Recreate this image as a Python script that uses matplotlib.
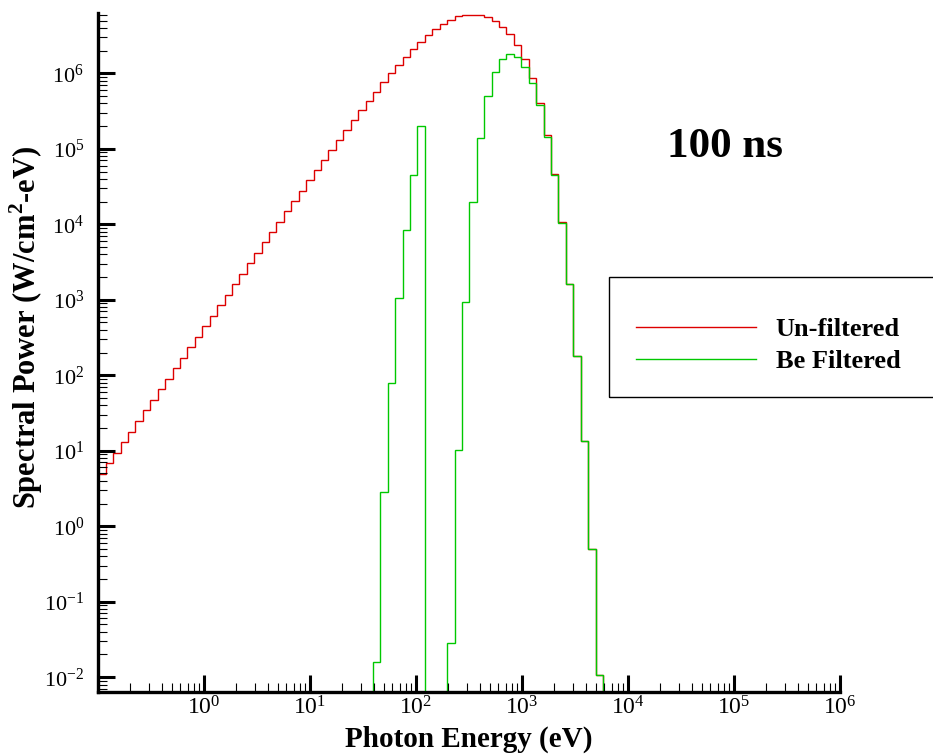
import numpy as np
import matplotlib
matplotlib.use('Agg')
import matplotlib.pyplot as plt
from matplotlib.lines import Line2D
from matplotlib.patches import Rectangle
from matplotlib.ticker import LogLocator, NullFormatter, FuncFormatter

plt.rcParams['font.family'] = ['Liberation Serif', 'DejaVu Serif']
plt.rcParams['mathtext.fontset'] = 'custom'
plt.rcParams['mathtext.rm'] = 'Liberation Serif'
plt.rcParams['mathtext.bf'] = 'Liberation Serif:bold'
plt.rcParams['axes.unicode_minus'] = False

# photon energy bin edges (eV), log spaced
edges = [0.1008, 0.1184, 0.1391, 0.1634, 0.1920, 0.2257, 0.2651, 0.3115, 0.3660, 0.4300,
         0.5052, 0.5935, 0.6974, 0.8194, 0.9627, 1.131, 1.329, 1.561, 1.834, 2.155,
         2.532, 2.975, 3.495, 4.107, 4.825, 5.669, 6.661, 7.826, 9.194, 10.80,
         12.69, 14.91, 17.52, 20.59, 24.19, 28.42, 33.39, 39.23, 46.09, 54.15,
         63.62, 74.75, 87.82, 103.2, 121.2, 142.4, 167.3, 196.6, 231.0, 271.3,
         318.8, 374.6, 440.1, 517.0, 607.5, 713.7, 838.6, 985.2, 1157, 1360,
         1598, 1877, 2206, 2591, 3044, 3577, 4202, 4937, 5801]

# un-filtered spectrum, one value per bin (W/cm2-eV)
unfiltered = [4.86, 6.93, 9.42, 12.9, 17.9, 25.0, 34.3, 47.0, 65.0, 88.3,
              123, 171, 236, 324, 448, 614, 843, 1165, 1600, 2210,
              3060, 4190, 5760, 7890, 1.08e4, 1.49e4, 2.05e4, 2.78e4, 3.81e4, 5.22e4,
              7.08e4, 9.61e4, 1.304e5, 1.785e5, 2.378e5, 3.226e5, 4.325e5, 5.69e5, 7.64e5, 9.97e5,
              1.297e6, 1.655e6, 2.094e6, 2.614e6, 3.236e6, 3.848e6, 4.483e6, 5.117e6, 5.676e6, 5.96e6,
              5.96e6, 5.90e6, 5.50e6, 4.95e6, 4.13e6, 3.27e6, 2.36e6, 1.53e6, 8.63e5, 4.03e5,
              1.52e5, 4.58e4, 1.07e4, 1630, 181, 13.6, 0.504, 0.0107]

# Be filtered spectrum, bins 37..67 (zeros are below the axis)
filtered_start = 37
filtered = [0.0160, 2.86, 78.8, 1045, 8380, 4.49e4, 2.018e5, 0, 0, 0,
            0.0281, 10.2, 942, 1.95e4, 1.377e5, 4.94e5, 1.054e6, 1.567e6, 1.779e6, 1.629e6,
            1.197e6, 7.35e5, 3.79e5, 1.44e5, 4.49e4, 1.05e4, 1630, 181, 13.6, 0.504,
            0.0107]

red = '#dd0000'
green = '#00c800'

fig = plt.figure(figsize=(9.33, 7.56), dpi=100)
ax = fig.add_axes([98 / 933, 64 / 756, 742 / 933, 679.3 / 756])

ax.stairs(unfiltered, edges, baseline=0, color=red, lw=1.0)
ax.stairs(filtered, edges[filtered_start:filtered_start + len(filtered) + 1],
          baseline=0, color=green, lw=1.0)

ax.set_xscale('log')
ax.set_yscale('log')
ax.set_xlim(0.1, 1e6)
ax.set_ylim(10 ** -2.196, 10 ** 6.803)


def decade(v, pos):
    return r'$\mathdefault{10^{%d}}$' % round(np.log10(v))


for a in (ax.xaxis, ax.yaxis):
    a.set_major_locator(LogLocator(base=10, numticks=100))
    a.set_minor_locator(LogLocator(base=10, subs=np.arange(2, 10), numticks=100))
    a.set_minor_formatter(NullFormatter())
ax.xaxis.set_major_formatter(FuncFormatter(decade))
ax.yaxis.set_major_formatter(FuncFormatter(decade))

ax.spines['top'].set_visible(False)
ax.spines['right'].set_visible(False)
ax.spines['left'].set_linewidth(2.4)
ax.spines['bottom'].set_linewidth(2.4)
ax.tick_params(which='major', direction='in', length=12, width=2.2)
ax.tick_params(which='minor', direction='in', length=6.5, width=0.8)
ax.tick_params(axis='x', which='major', labelsize=17, pad=3)
ax.tick_params(axis='y', which='major', labelsize=16, pad=10)

# no label at the left end of the energy axis
fig.canvas.draw()
for t in ax.xaxis.get_major_ticks():
    if t.get_loc() < 0.5:
        t.label1.set_visible(False)

ax.set_xlabel('Photon Energy (eV)', fontsize=21, fontweight='bold')
ax.set_ylabel(r'Spectral Power (W/cm$^{\mathbf{2}}$-eV)', fontsize=22, fontweight='bold')
ax.xaxis.set_label_coords(0.5, -0.05)
ax.yaxis.set_label_coords(-0.072, 0.537)

fig.text(666.7 / 933, 1 - 157 / 756, '100 ns', fontsize=31, fontweight='bold', va='baseline')

# legend box runs past the right edge of the figure
fig.add_artist(Rectangle((609 / 933, 1 - 397.3 / 756), 340 / 933, 120.6 / 756,
                         transform=fig.transFigure, facecolor='none',
                         edgecolor='black', lw=1.0))
handles = [Line2D([], [], color=red, lw=1.0), Line2D([], [], color=green, lw=1.0)]
ax.legend(handles, ['Un-filtered', 'Be Filtered'], loc='upper left',
          bbox_to_anchor=(636 / 933, 1 - 318 / 756), bbox_transform=fig.transFigure,
          frameon=False, prop={'size': 19, 'weight': 'bold'}, handlelength=4.55,
          handletextpad=0.75, labelspacing=0.3, borderpad=0, borderaxespad=0)

fig.savefig('out.png', dpi=100)
